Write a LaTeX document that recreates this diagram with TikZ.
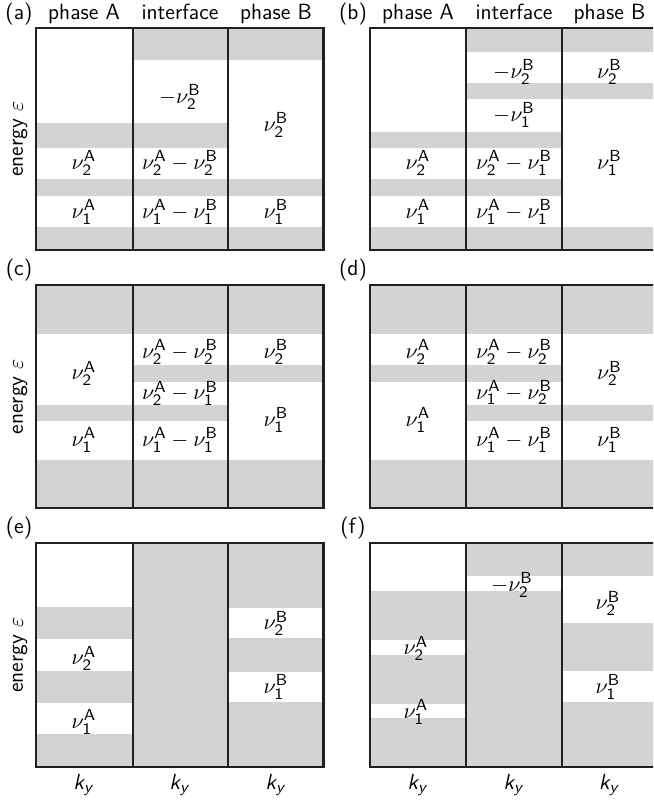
\documentclass[tikz,border=0pt]{standalone}
\renewcommand{\familydefault}{\sfdefault}
\DeclareMathAlphabet{\mathsfit}{OT1}{cmss}{m}{sl}
\newcommand{\nA}[1]{\nu_{\mathsf{#1}}^{\mathsf{A}}}
\newcommand{\nB}[1]{\nu_{\mathsf{#1}}^{\mathsf{B}}}
\newcommand{\ky}{$\mathsfit{k}_{\mathsfit{y}}$}
\definecolor{bandgray}{HTML}{D1D3D4}
\definecolor{framecol}{HTML}{231F20}
\newcommand{\bnd}[4]{\fill[bandgray] (#1,#3) rectangle (#2,#4);}
\tikzset{
  frame/.style={draw=framecol, line width=1.1pt},
  lbl/.style={inner sep=0pt, anchor=center},
  hdr/.style={inner sep=0pt, anchor=base},
}
\begin{document}
\begin{tikzpicture}[x=0.5pt,y=-0.5pt, font=\fontsize{11}{13}\selectfont]
\useasboundingbox (0,0) rectangle (653,802);
\clip (0,0) rectangle (653,802);
\fill[white] (0,0) rectangle (653,802);
% ---------- panel (a)
\bnd{36}{323.5}{179}{195.7}
\bnd{36}{323.5}{226.7}{250}
\bnd{36}{228}{123.3}{147.7}
\bnd{132.7}{323.5}{28.3}{60}
\draw[frame] (36,28.3) rectangle (323.5,250);
\draw[frame] (132.7,28.3) -- (132.7,250);
\draw[frame] (228,28.3) -- (228,250);
\node[hdr] (a-lab) at (19,20) {(a)};
\node[hdr] (a-hA) at (84,20) {phase A};
\node[hdr] (a-hI) at (180,20) {interface};
\node[hdr] (a-hB) at (276,20) {phase B};
\node[lbl,rotate=90] (a-en) at (20,139) {energy $\varepsilon$};
\node[lbl] (a1) at (84,163) {$\nA2$};
\node[lbl] (a2) at (84,211.7) {$\nA1$};
\node[lbl] (a3) at (180,96.7) {$-\nB2$};
\node[lbl] (a4) at (180,163) {$\nA2-\nB2$};
\node[lbl] (a5) at (180,211.7) {$\nA1-\nB1$};
\node[lbl] (a6) at (276,125) {$\nB2$};
\node[lbl] (a7) at (276,211.7) {$\nB1$};
% ---------- panel (b)
\bnd{370}{657.5}{226.7}{250}
\bnd{370}{561.7}{179}{195.7}
\bnd{370}{561.7}{131.7}{147.7}
\bnd{466}{657.5}{28.3}{51.7}
\bnd{466}{657.5}{82.7}{99.3}
\draw[frame] (370,28.3) rectangle (657.5,250);
\draw[frame] (466,28.3) -- (466,250);
\draw[frame] (561.7,28.3) -- (561.7,250);
\node[hdr] (b-lab) at (353,20) {(b)};
\node[hdr] (b-hA) at (418,20) {phase A};
\node[hdr] (b-hI) at (514,20) {interface};
\node[hdr] (b-hB) at (609.5,20) {phase B};
\node[lbl] (b1) at (418,163) {$\nA2$};
\node[lbl] (b2) at (418,211.7) {$\nA1$};
\node[lbl] (b3) at (514,71.7) {$-\nB2$};
\node[lbl] (b4) at (514,115) {$-\nB1$};
\node[lbl] (b5) at (514,163) {$\nA2-\nB1$};
\node[lbl] (b6) at (514,211.7) {$\nA1-\nB1$};
\node[lbl] (b7) at (609.5,71.7) {$\nB2$};
\node[lbl] (b8) at (609.5,163) {$\nB1$};
% ---------- panel (c)
\bnd{36}{323.5}{285}{334}
\bnd{36}{323.5}{460}{508.3}
\bnd{36}{228}{405}{420.7}
\bnd{132.7}{323.5}{365}{381.7}
\draw[frame] (36,285) rectangle (323.5,508.3);
\draw[frame] (132.7,285) -- (132.7,508.3);
\draw[frame] (228,285) -- (228,508.3);
\node[hdr] (c-lab) at (19,275) {(c)};
\node[lbl,rotate=90] (c-en) at (20,396.7) {energy $\varepsilon$};
\node[lbl] (c1) at (84,373.3) {$\nA2$};
\node[lbl] (c2) at (84,440) {$\nA1$};
\node[lbl] (c3) at (180,351.7) {$\nA2-\nB2$};
\node[lbl] (c4) at (180,393.3) {$\nA2-\nB1$};
\node[lbl] (c5) at (180,440) {$\nA1-\nB1$};
\node[lbl] (c6) at (276,351.7) {$\nB2$};
\node[lbl] (c7) at (276,420) {$\nB1$};
% ---------- panel (d)
\bnd{370}{657.5}{285}{334}
\bnd{370}{657.5}{460}{508.3}
\bnd{370}{561.7}{365}{381.7}
\bnd{466}{657.5}{405}{420.7}
\draw[frame] (370,285) rectangle (657.5,508.3);
\draw[frame] (466,285) -- (466,508.3);
\draw[frame] (561.7,285) -- (561.7,508.3);
\node[hdr] (d-lab) at (353,275) {(d)};
\node[lbl] (d1) at (418,351.7) {$\nA2$};
\node[lbl] (d2) at (418,420) {$\nA1$};
\node[lbl] (d3) at (514,351.7) {$\nA2-\nB2$};
\node[lbl] (d4) at (514,392.5) {$\nA1-\nB2$};
\node[lbl] (d5) at (514,440) {$\nA1-\nB1$};
\node[lbl] (d6) at (609.5,373.3) {$\nB2$};
\node[lbl] (d7) at (609.5,440) {$\nB1$};
% ---------- panel (e)
\bnd{36}{132.7}{606.7}{639.3}
\bnd{36}{132.7}{670.7}{703.3}
\bnd{36}{132.7}{734.3}{766.7}
\bnd{132.7}{228}{543.3}{766.7}
\bnd{228}{323.5}{543.3}{607.7}
\bnd{228}{323.5}{638.3}{671.7}
\bnd{228}{323.5}{702.3}{766.7}
\draw[frame] (36,543.3) rectangle (323.5,766.7);
\draw[frame] (132.7,543.3) -- (132.7,766.7);
\draw[frame] (228,543.3) -- (228,766.7);
\node[hdr] (e-lab) at (19,533.5) {(e)};
\node[lbl,rotate=90] (e-en) at (20,655) {energy $\varepsilon$};
\node[lbl] (e1) at (84,658.3) {$\nA2$};
\node[lbl] (e2) at (84,721.7) {$\nA1$};
\node[lbl] (e3) at (276,623.3) {$\nB2$};
\node[lbl] (e4) at (276,686.7) {$\nB1$};
\node[lbl] (e-k1) at (84,785) {\ky};
\node[lbl] (e-k2) at (180,785) {\ky};
\node[lbl] (e-k3) at (276,785) {\ky};
% ---------- panel (f)
\bnd{370}{466}{591}{639.7}
\bnd{370}{466}{655}{703.7}
\bnd{370}{466}{718.3}{766.7}
\bnd{466}{561.7}{543.3}{575.7}
\bnd{466}{561.7}{591}{766.7}
\bnd{561.7}{657.5}{543.3}{575.7}
\bnd{561.7}{657.5}{622.7}{671}
\bnd{561.7}{657.5}{702.3}{766.7}
\draw[frame] (370,543.3) rectangle (657.5,766.7);
\draw[frame] (466,543.3) -- (466,766.7);
\draw[frame] (561.7,543.3) -- (561.7,766.7);
\node[hdr] (f-lab) at (353,533.5) {(f)};
\node[lbl] (f1) at (416,648.3) {$\nA2$};
\node[lbl] (f2) at (416,711.7) {$\nA1$};
\node[lbl] (f3) at (512,585) {$-\nB2$};
\node[lbl] (f4) at (608,603.3) {$\nB2$};
\node[lbl] (f5) at (608,686.7) {$\nB1$};
\node[lbl] (f-k1) at (418,785) {\ky};
\node[lbl] (f-k2) at (514,785) {\ky};
\node[lbl] (f-k3) at (609.5,785) {\ky};
\end{tikzpicture}
\end{document}
